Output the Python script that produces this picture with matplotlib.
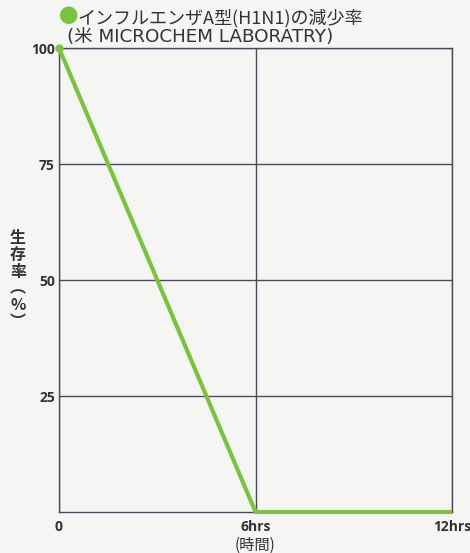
import matplotlib.pyplot as plt

plt.rcParams['font.family'] = ['Noto Sans CJK JP', 'DejaVu Sans']

hours = [0, 6, 12]
survival = [100, 0, 0]
x_ticks = [0, 6, 12]
x_tick_labels = ["0", "6hrs", "12hrs"]
y_ticks = [25, 50, 75, 100]
y_tick_labels = ["25", "50", "75", "100"]

green = "#7cc242"
grid_color = "#4a4a5a"
text_color = "#333333"
tick_font = dict(family=["Open Sans", "DejaVu Sans"], fontsize=10, fontweight="bold", color=text_color)

fig = plt.figure(figsize=(4.70, 5.53), dpi=100)
fig.patch.set_facecolor("#f5f6f3")
ax = fig.add_axes([59 / 470, 1 - 512 / 553, (452 - 59) / 470, (512 - 48) / 553])
ax.set_facecolor("#f5f6f3")

ax.plot(hours, survival, color=green, lw=3, solid_capstyle="butt", clip_on=False, zorder=3)
ax.plot(hours[0], survival[0], "o", color=green, ms=5, clip_on=False, zorder=4)

ax.set_xlim(0, 12)
ax.set_ylim(0, 100)
ax.set_xticks(x_ticks)
ax.set_xticklabels(x_tick_labels, **tick_font)
ax.set_yticks(y_ticks)
ax.set_yticklabels(y_tick_labels, **tick_font)
ax.tick_params(axis="x", length=0, pad=6)
ax.tick_params(axis="y", length=0, pad=3)
ax.grid(True, color=grid_color, lw=1)
for s in ax.spines.values():
    s.set_color(grid_color)
    s.set_linewidth(1)

fig.text(59 / 470, 1 - 18 / 553, "●", color=green, fontsize=14, va="center", ha="left")
fig.text(77 / 470, 1 - 18 / 553, "インフルエンザA型(H1N1)の減少率", color=text_color,
         fontsize=13, va="center", ha="left")
fig.text(67 / 470, 1 - 37 / 553, "(米 MICROCHEM LABORATRY)", color=text_color,
         fontsize=13.2, va="center", ha="left", family=["DejaVu Sans", "Noto Sans CJK JP"])

fig.text(18 / 470, 1 - 280 / 553, "生\n存\n率\n︵\n%\n︶", color=text_color,
         fontsize=11.5, fontweight="bold", va="center", ha="center", linespacing=1.05)
fig.text(255 / 470, 1 - 545 / 553, "(時間)", color=text_color,
         fontsize=11, va="center", ha="center")

fig.savefig("out.png", dpi=100, facecolor=fig.get_facecolor())
